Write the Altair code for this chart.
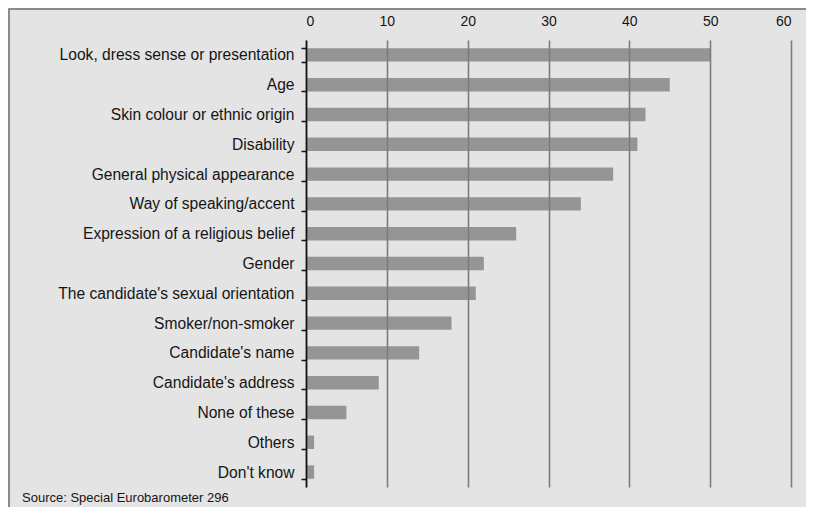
import altair as alt
import pandas as pd

categories = [
    "Look, dress sense or presentation",
    "Age",
    "Skin colour or ethnic origin",
    "Disability",
    "General physical appearance",
    "Way of speaking/accent",
    "Expression of a religious belief",
    "Gender",
    "The candidate's sexual orientation",
    "Smoker/non-smoker",
    "Candidate's name",
    "Candidate's address",
    "None of these",
    "Others",
    "Don't know",
]
values = [50, 45, 42, 41, 38, 34, 26, 22, 21, 18, 14, 9, 5, 1, 1]
x_ticks = [0, 10, 20, 30, 40, 50, 60]
source_note = "Source: Special Eurobarometer 296"

FONT = "Liberation Sans"
TEXT = "#151515"

df = pd.DataFrame({"factor": categories, "pct": values})

W, H = 485, 447

bars = alt.Chart(df).mark_bar(color="#959595").encode(
    x=alt.X(
        "pct:Q",
        scale=alt.Scale(domain=[0, 60], nice=False),
        axis=alt.Axis(
            orient="top", values=x_ticks, grid=True, ticks=False, domain=False,
            labelFontSize=14, labelPadding=12, labelColor=TEXT, labelFont=FONT,
            gridColor="#7c7c7c", gridWidth=1.6, zindex=1, title=None,
        ),
    ),
    y=alt.Y(
        "factor:N", sort=categories,
        scale=alt.Scale(paddingInner=0.55, paddingOuter=0.275),
        axis=alt.Axis(
            title=None, tickBand="extent", tickSize=5, tickColor="#111111",
            tickWidth=1.5, domainColor="#111111", domainWidth=1.6,
            labelPadding=7, labelFontSize=15.6, labelLimit=400, labelColor=TEXT,
            labelFont=FONT, zindex=1,
        ),
    ),
)

# decorative outer frame of the figure (not data)
frame = alt.Chart(pd.DataFrame({"a": [0]})).mark_rect(
    filled=False, stroke="#6e6e6e", strokeWidth=1.5
).encode(
    x=alt.value(-297), x2=alt.value(W + 25), y=alt.value(-31), y2=alt.value(H + 22)
)

chart = alt.layer(frame, bars).properties(
    width=W, height=H,
    padding={"left": 298, "top": 32, "right": 15, "bottom": 20},
    autosize=alt.AutoSizeParams(type="none"),
    background="#e4e4e4",
    title=alt.TitleParams(
        source_note, orient="bottom", anchor="start", frame="group",
        dx=-284, offset=-17.5, fontSize=13, fontWeight="normal", font=FONT,
        color=TEXT,
    ),
).configure_view(stroke=None)

chart.save("out.html", embed_options={"renderer": "svg", "actions": False})
